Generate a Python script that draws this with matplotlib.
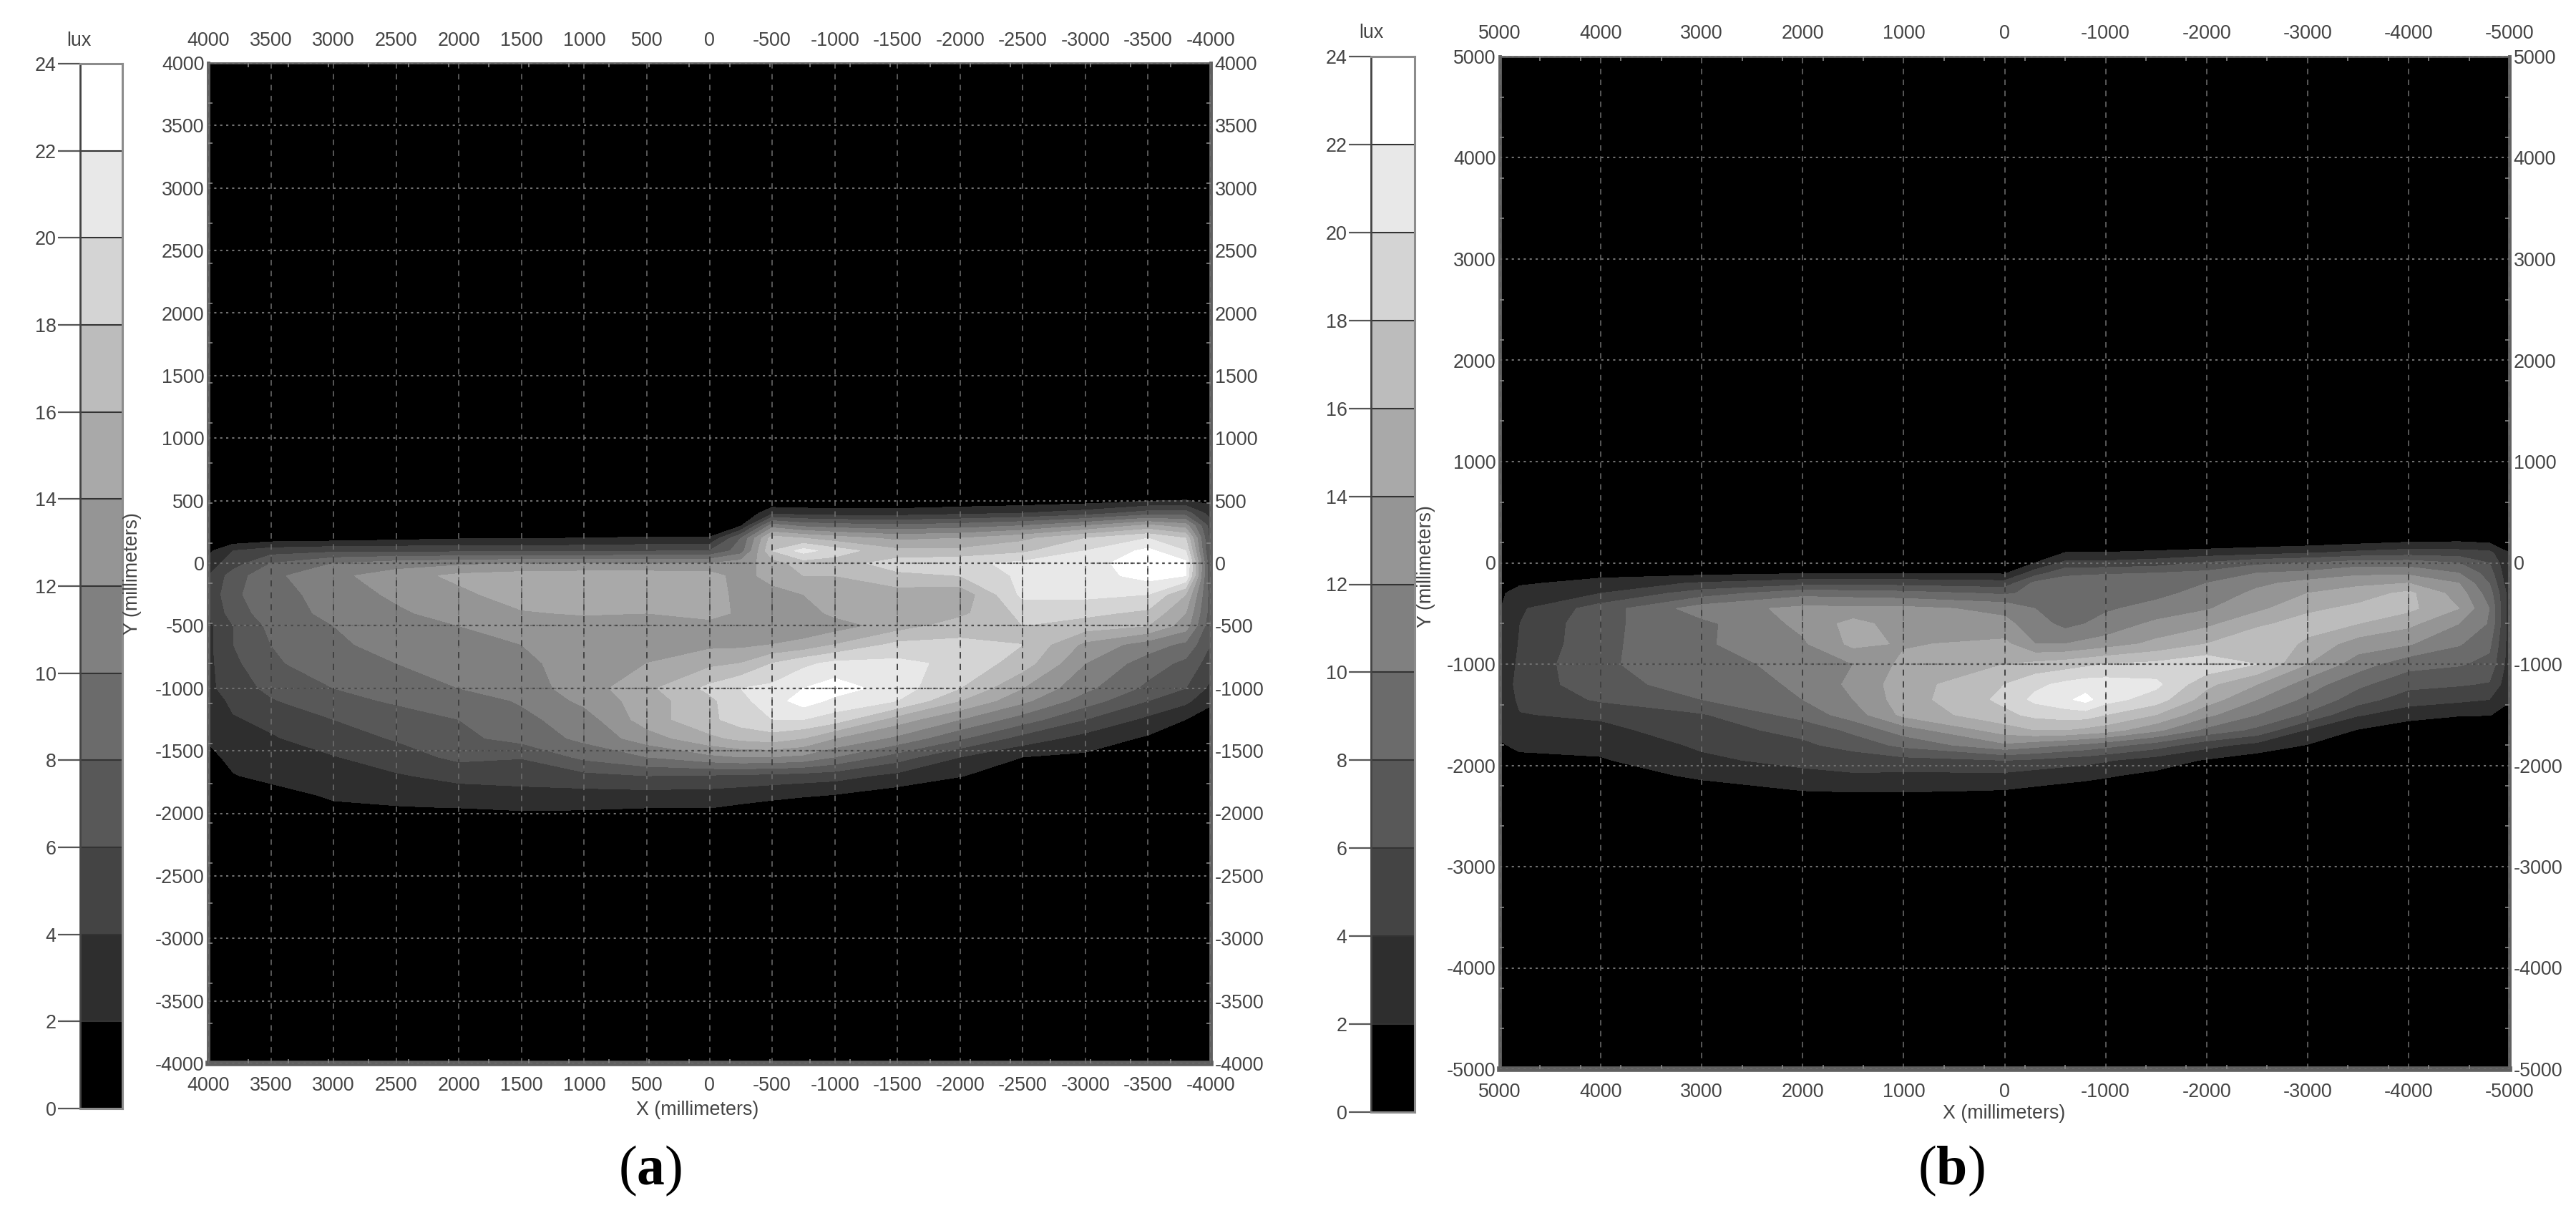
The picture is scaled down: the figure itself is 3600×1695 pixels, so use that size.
import numpy as np
import matplotlib
matplotlib.use("Agg")
import matplotlib.pyplot as plt
from matplotlib.path import Path

plt.rcParams["font.family"] = ["Liberation Sans", "DejaVu Sans"]
plt.rcParams["mathtext.fontset"] = "custom"
plt.rcParams["mathtext.bf"] = "Liberation Serif:bold"
plt.rcParams["mathtext.rm"] = "Liberation Serif"

W, H = 3600, 1695
TEXT = "#444444"

levels = [0, 2, 4, 6, 8, 10, 12, 14, 16, 18, 20, 22, 24]
grays = ["#000000", "#2e2e2e", "#444444", "#585858", "#6b6b6b", "#808080",
         "#959595", "#a9a9a9", "#bcbcbc", "#d4d4d4", "#e8e8e8", "#ffffff"]

ticks_a = [4000, 3500, 3000, 2500, 2000, 1500, 1000, 500, 0, -500, -1000,
           -1500, -2000, -2500, -3000, -3500, -4000]
ticks_b = [5000, 4000, 3000, 2000, 1000, 0, -1000, -2000, -3000, -4000, -5000]

# lux
x_a = [4000, 3800, 3500, 3000, 2500, 2000, 1500, 1000, 500, 0, -250, -500, -750,
       -1000, -1500, -2000, -2500, -3000, -3500, -3800, -4000]
y_a = [600, 500, 400, 300, 200, 100, 0, -100, -250, -400, -500, -650, -800,
       -1000, -1100, -1250, -1400, -1550, -1700, -1850, -1950, -2050]
z_a = [
    [0, 0, 0, 0, 0, 0, 0, 0, 0, 0, 0, 0, 0, 0, 0, 0, 0, 0, 0, 0, 0],
    [0, 0, 0, 0, 0, 0, 0, 0, 0, 0, 0, .3, .3, .2, .3, .5, .7, 1, 1.8, 2.1, 1.5],
    [0, 0, 0, 0, 0, 0, 0, 0, 0, 0, 0, 3.5, 3.2, 3, 3, 3.5, 4, 5, 7, 7, 3],
    [0, 0, 0, 0, 0, 0, 0, 0, 0, 0, 1.8, 11, 9.5, 9, 8.5, 9, 10, 12, 14.5, 13, 5],
    [0, .2, .8, 1, 1.4, 1.8, 1.9, 2.05, 2.2, 2.2, 8, 17, 16, 15, 13.5, 14, 15.5, 18, 20, 18, 5],
    [1.5, 4, 5, 5.5, 5.5, 5.5, 5.5, 5.5, 5.8, 6, 9, 18, 20.8, 19, 16.5, 16.5, 17.5, 20, 22.5, 20, 5],
    [3, 5, 8, 10, 11, 11.5, 12, 12, 12, 12, 13, 15, 17, 17, 19, 19.5, 20.5, 21, 23.5, 22.5, 6],
    [4, 7, 9.5, 11.5, 13, 14.5, 15, 15.2, 15.2, 15, 13, 15, 16, 16, 17.5, 18, 20.5, 21, 22.8, 22, 6],
    [4.5, 7.5, 9.5, 10.5, 12.5, 13.5, 15, 15, 15, 15.5, 13, 13, 14, 14.5, 15, 14.5, 20.5, 20.5, 20, 16, 7],
    [4, 7, 9, 10.5, 11.5, 13.2, 13.8, 14.2, 14, 15, 13.5, 12.8, 13, 14.5, 14, 15.5, 18.5, 18.5, 17.5, 14, 7],
    [3.5, 6, 8.5, 10, 11, 12, 13, 13, 13, 13, 13, 12, 12.8, 13, 15, 17, 18, 17, 16, 13, 6.5],
    [3.5, 6, 8, 9.5, 11, 11.8, 12, 12.5, 13, 13.5, 13.5, 14, 14.5, 16, 18.5, 18.5, 18, 13.5, 11, 9.5, 6],
    [3.5, 5.5, 7.7, 9, 10, 11, 11.5, 13, 14, 15.5, 16, 18, 19.5, 20.5, 20.5, 19.5, 17, 12, 9, 7.5, 5],
    [3.5, 5, 6.5, 8, 9, 10, 11, 13, 15.5, 18.5, 20, 20.5, 22, 23, 21, 18, 14, 10.5, 7.5, 6, 3.5],
    [2.8, 4.5, 5.8, 7.5, 8.2, 9, 10.2, 12.5, 15, 17.5, 19.5, 21, 23, 21.5, 20, 16, 12.5, 9, 6, 4.5, 2.4],
    [2.4, 3.8, 4.5, 6, 7.3, 8, 9.5, 11, 15, 17.5, 19, 20, 20, 19, 15, 12, 9, 6, 3.5, 2, 1],
    [2.2, 3, 3.8, 5, 6.2, 7.5, 8.7, 10.5, 13, 15.5, 16.5, 17, 16, 14, 11.5, 8.3, 5.2, 3.2, 1.7, .8, .3],
    [1.5, 2.5, 3, 3.9, 5, 6.5, 6.1, 8.5, 10, 11.5, 12, 12, 11.5, 10, 7, 4, 2, 1.6, .5, 0, 0],
    [1, 1.9, 2.5, 2.9, 3.8, 4.6, 5, 5.4, 6, 5.8, 5.6, 5.4, 5.1, 4.8, 3.4, 2.1, .8, 0, 0, 0, 0],
    [.2, .8, 1.3, 2.3, 2.8, 3.1, 3.2, 3.3, 3.3, 3.2, 2.9, 2.5, 2.2, 2, 1, .3, 0, 0, 0, 0, 0],
    [0, 0, .5, 1.7, 1.9, 2.1, 2.4, 2.3, 2.1, 2.1, 1.7, 1.4, 1.2, 1, .5, 0, 0, 0, 0, 0, 0],
    [0, 0, 0, .5, .5, .5, 1, 1, .5, .5, 0, 0, 0, 0, 0, 0, 0, 0, 0, 0, 0],
]

# lux
x_b = [5000, 4800, 4000, 3000, 2000, 1500, 1000, 0, -300, -600, -800, -1000,
       -1500, -2000, -2500, -3000, -3500, -4000, -4500, -4800, -5000]
y_b = [300, 200, 100, 0, -100, -200, -300, -450, -600, -800, -1000, -1200,
       -1350, -1500, -1650, -1800, -1950, -2100, -2250, -2400]
z_b = [
    [0, 0, 0, 0, 0, 0, 0, 0, 0, 0, 0, 0, 0, 0, 0, 0, 0, 0, 0, 0, 0],
    [0, 0, 0, 0, 0, 0, 0, 0, 0, .1, .1, .2, .4, .6, .9, 1.1, 1.6, 2.1, 2.2, 1.9, .5],
    [0, 0, 0, 0, 0, 0, 0, 0, .5, 2.05, 2.1, 2.1, 2.4, 2.8, 3.2, 3.8, 4.5, 5, 4.8, 4.5, 2],
    [0, 0, 0, 0, 0, 0, 0, 0, 2, 4.5, 4.5, 4.5, 5, 6.2, 7.5, 8, 9, 9, 8, 6, 2],
    [0, .2, 1, 1.4, 1.8, 1.8, 1.8, 1.7, 5, 7.5, 7.7, 7.8, 8, 8.5, 10, 10.5, 11.5, 11.5, 10, 7, 2.2],
    [.3, 1.6, 3, 4.2, 5.2, 5.2, 5.2, 4.8, 8.5, 9, 9.1, 9.2, 9.5, 10, 11.5, 12.7, 13.5, 14, 12, 8, 2.5],
    [1.5, 3.2, 4, 7, 9.3, 9, 8.7, 7.7, 8.5, 9, 9.2, 9.3, 9.6, 10.5, 12.5, 14, 15, 16.5, 13, 9, 3],
    [1.9, 3.7, 7, 11, 12.5, 12.5, 12.5, 11.5, 10, 8.8, 9.4, 9.8, 10.5, 11.8, 13.5, 15.5, 16.5, 16.5, 14, 10, 3],
    [2, 4, 7.5, 9.5, 12.5, 14.7, 13, 12.5, 11, 9.3, 10, 10.5, 12.5, 13.5, 15.5, 17, 16, 14.5, 12, 9.8, 3],
    [2.1, 4.2, 7.5, 9.7, 11.7, 14.5, 13.8, 14.5, 12, 12, 12.5, 13, 14.5, 16, 18, 15.5, 13, 12.2, 10.2, 8.5, 3],
    [2.2, 4.5, 7.8, 8.8, 11, 12, 14.5, 16, 16.5, 17, 17.5, 18, 18.5, 19.5, 18, 14, 11, 8.7, 8.2, 7.4, 3],
    [2.6, 4.7, 7.3, 8.8, 10.3, 12.5, 15, 18, 19.5, 20.5, 21, 21, 20.5, 16.5, 14, 11, 8.4, 6.7, 6.2, 5.8, 2.6],
    [2.5, 4.4, 6.3, 8, 10, 12, 15, 18.5, 20.5, 21.5, 22.7, 20.8, 19, 15, 12, 9.5, 7, 4.8, 4.4, 4, 2.2],
    [2.6, 3.9, 4.4, 5.8, 8.8, 11, 14.5, 17.5, 18.5, 19, 19, 18, 16, 12.5, 10, 7.6, 4.2, 3, 2.2, 2.1, 1.2],
    [2.4, 3.2, 3.4, 5.2, 6.6, 8.5, 11, 15, 16, 16, 15.5, 15, 12.5, 9.5, 7.5, 3.8, 1.9, .5, 0, 0, 0],
    [1.8, 2.4, 2.6, 4.3, 5.6, 6.8, 8.5, 11.6, 10.8, 10, 9.5, 8.8, 7, 4.7, 3.3, 1.9, .6, 0, 0, 0, 0],
    [.5, 1.5, 1.8, 3.6, 4.6, 4.8, 5.3, 6, 5.6, 5, 4.7, 4.2, 3, 1.8, .8, 0, 0, 0, 0, 0, 0],
    [0, 0, .3, 2.6, 3.4, 3.8, 3.6, 3.5, 3, 2.7, 2.5, 2.2, 1.5, .7, 0, 0, 0, 0, 0, 0, 0],
    [0, 0, 0, .5, 2, 2.2, 2.2, 1.9, 1.6, 1.3, 1.1, 1, .5, 0, 0, 0, 0, 0, 0, 0, 0],
    [0, 0, 0, 0, 0, 0, 0, 0, 0, 0, 0, 0, 0, 0, 0, 0, 0, 0, 0, 0, 0],
]

DASHED = (0, (5, 5))
DOTTED = (0, (1.5, 2.5))


def px_axes(fig, x0, y0, x1, y1):
    return fig.add_axes([x0 / W, 1 - y1 / H, (x1 - x0) / W, (y1 - y0) / H])


def px_text(fig, x, y, s, **kw):
    kw.setdefault("fontsize", 19.4)
    kw.setdefault("color", TEXT)
    fig.text(x / W, 1 - y / H, s, ha="center", va="center", **kw)


def draw_map(fig, box, x, y, z, ticks, pad):
    ax = px_axes(fig, *box)
    lim = ticks[0]
    ax.set_facecolor("black")
    cs = ax.contourf(x, y, np.array(z), levels=levels, colors=grays, zorder=1)
    ax.set_xlim(lim, -lim)
    ax.set_ylim(-lim, lim)
    ax.set_xticks(ticks)
    ax.set_xticklabels([str(t) for t in ticks])
    ax.set_yticks(ticks)
    ax.set_yticklabels([str(t) for t in ticks])
    ax.tick_params(axis="x", which="major", length=0, top=True, labeltop=True,
                   pad=pad, labelsize=19.4, labelcolor=TEXT)
    ax.tick_params(axis="y", which="major", length=0, right=True, labelright=True,
                   pad=4, labelsize=19.4, labelcolor=TEXT)
    minor = np.linspace(-lim, lim, 26)
    ax.set_xticks(minor, minor=True)
    ax.set_yticks(minor, minor=True)
    ax.tick_params(which="minor", direction="in", length=4, width=1.2, color="#888888",
                   top=True, right=True, labelbottom=False, labelleft=False)
    ax.xaxis.grid(True, which="major", color="#707070", lw=1.1, ls=DASHED, zorder=3)
    ax.yaxis.grid(True, which="major", color="#707070", lw=1.5, ls=DOTTED, zorder=3)
    ax.set_axisbelow(False)

    # over the lit area the grid turns dark
    lit = Path.make_compound_path(*cs.get_paths()[3:])
    v = ax.vlines(ticks[1:-1], -lim, lim, color="#3a3a3a", lw=1.2, ls=DASHED, zorder=4)
    h = ax.hlines(ticks[1:-1], lim, -lim, color="#4a4a4a", lw=1.6, ls=DOTTED, zorder=4)
    v.set_clip_path(lit, ax.transData)
    h.set_clip_path(lit, ax.transData)
    ax.set_xlim(lim, -lim)
    ax.set_ylim(-lim, lim)

    for side, lw in [("left", 3.5), ("right", 3.5), ("top", 2), ("bottom", 5.5)]:
        ax.spines[side].set_linewidth(lw)
        ax.spines[side].set_color("#606060")
    return ax


def draw_bar(fig, box):
    ax = px_axes(fig, *box)
    ax.barh(np.array(levels[:-1]) + 1, 1, height=2, color=grays, left=0)
    ax.hlines(levels, 0, 1, color="#333333", lw=1.5)
    ax.set_xlim(0, 1)
    ax.set_ylim(0, 24)
    ax.set_xticks([])
    ax.set_yticks(levels)
    ax.tick_params(axis="y", length=22, width=1.6, color="#555555", pad=2,
                   labelsize=19.4, labelcolor=TEXT)
    ax.spines["left"].set_linewidth(2)
    ax.spines["left"].set_color("#444444")
    for side in ["right", "top", "bottom"]:
        ax.spines[side].set_linewidth(2.2)
        ax.spines[side].set_color("#8c8c8c")
    return ax


fig = plt.figure(figsize=(W / 100, H / 100), dpi=100, facecolor="white")

draw_bar(fig, (112, 89, 171, 1549))
draw_map(fig, (291, 88, 1692, 1486), x_a, y_a, z_a, ticks_a, 13)
px_text(fig, 110, 57, "lux")
px_text(fig, 185, 802, "Y (millimeters)", rotation=90)
px_text(fig, 975, 1551, "X (millimeters)")
px_text(fig, 909, 1636, r"($\mathbf{a}$)", fontsize=56, color="black",
        family="Liberation Serif")

draw_bar(fig, (1916, 79, 1977, 1554))
draw_map(fig, (2096, 79, 3507, 1494), x_b, y_b, z_b, ticks_b, 14)
px_text(fig, 1916, 46, "lux")
px_text(fig, 1993, 792, "Y (millimeters)", rotation=90)
px_text(fig, 2801, 1556, "X (millimeters)")
px_text(fig, 2727, 1636, r"($\mathbf{b}$)", fontsize=56, color="black",
        family="Liberation Serif")

fig.savefig("out.png", dpi=100)
